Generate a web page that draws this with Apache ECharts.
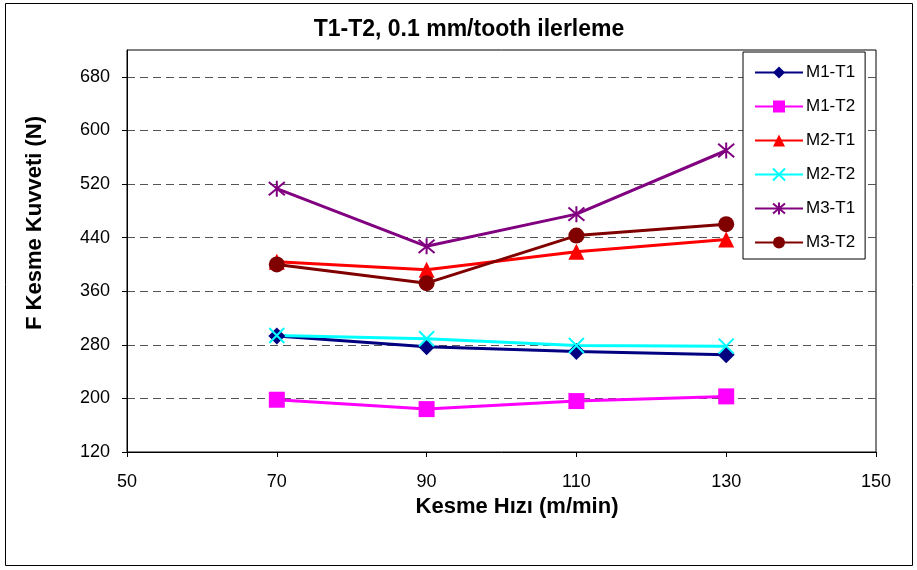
<!DOCTYPE html>
<html>
<head>
<meta charset="utf-8">
<script src="https://cdn.jsdelivr.net/npm/echarts@6/dist/echarts.min.js"></script>
<style>
  html, body { margin: 0; padding: 0; background: #fff; }
  #chart { width: 917px; height: 570px; }
</style>
</head>
<body>
<div id="chart"></div>
<script>
// Cutting speed (m/min) on the x axis
var speeds = [70, 90, 110, 130];
var xTicks = [50, 70, 90, 110, 130, 150];
var yTicks = [120, 200, 280, 360, 440, 520, 600, 680];

// Cutting force (N) per material/tool pair
var m1t1 = [293, 277, 270, 265];
var m1t2 = [198, 184, 196, 203];
var m2t1 = [404, 392, 419, 437];
var m2t2 = [294, 289, 279, 278];
var m3t1 = [513, 427, 475, 570];
var m3t2 = [400, 372, 443, 460];

function pairs(vals) {
  return speeds.map(function (s, i) { return [s, vals[i]]; });
}

var FONT = 'Liberation Sans, Arial, sans-serif';
var CROSS = 'path://M0,0L10,10M10,0L0,10';
var STAR = 'path://M0,0L10,10M10,0L0,10M5,-1L5,11';

function series(name, vals, color, symbol, size, hollow) {
  return {
    name: name,
    type: 'line',
    data: pairs(vals),
    symbol: symbol,
    symbolSize: size,
    showAllSymbol: true,
    lineStyle: { color: color, width: 3 },
    itemStyle: hollow
      ? { color: 'rgba(0,0,0,0)', borderColor: color, borderWidth: 2 }
      : { color: color, borderWidth: 0 },
    emphasis: { disabled: true },
    z: 3
  };
}

var chart = echarts.init(document.getElementById('chart'), null, { renderer: 'canvas' });
chart.setOption({
  animation: false,
  backgroundColor: '#fff',
  title: {
    text: 'T1-T2, 0.1 mm/tooth ilerleme',
    left: 464,
    top: 13,
    textAlign: 'center',
    textStyle: { fontFamily: FONT, fontSize: 23, fontWeight: 'bold', color: '#000' }
  },
  graphic: [{
    type: 'rect',
    shape: { x: 5.5, y: 3.5, width: 907, height: 562 },
    style: { fill: 'none', stroke: '#000', lineWidth: 1 },
    silent: true
  }],
  grid: {
    left: 127, right: 41, top: 50, bottom: 118,
    show: true, borderColor: '#000', borderWidth: 1, backgroundColor: '#fff'
  },
  legend: {
    orient: 'vertical',
    left: 743,
    top: 52,
    width: 127,
    padding: [12, 10, 8, 11],
    itemWidth: 48,
    itemHeight: 15,
    itemGap: 17,
    backgroundColor: '#fff',
    borderColor: '#000',
    borderWidth: 1,
    textStyle: { fontFamily: FONT, fontSize: 17, color: '#000', padding: [0, 0, 0, -2] },
    data: ['M1-T1', 'M1-T2', 'M2-T1', 'M2-T2', 'M3-T1', 'M3-T2']
  },
  xAxis: {
    type: 'value',
    min: 50,
    max: 150,
    name: 'Kesme Hızı (m/min)',
    nameLocation: 'middle',
    nameGap: 44,
    nameTextStyle: { fontFamily: FONT, fontSize: 22, fontWeight: 'bold', color: '#000', padding: [0, 0, 0, 31] },
    axisLine: { onZero: false, lineStyle: { color: '#000', width: 1 } },
    axisTick: { show: true, inside: false, length: 5, lineStyle: { color: '#000' }, customValues: xTicks },
    axisLabel: { customValues: xTicks, fontFamily: FONT, fontSize: 18, color: '#000', margin: 21 },
    splitLine: { show: false }
  },
  yAxis: {
    type: 'value',
    min: 120,
    max: 720,
    name: 'F Kesme Kuvveti (N)',
    nameLocation: 'middle',
    nameGap: 81,
    nameTextStyle: { fontFamily: FONT, fontSize: 22, fontWeight: 'bold', color: '#000', padding: [0, 0, 0, 56] },
    axisLine: { onZero: false, lineStyle: { color: '#000', width: 1 } },
    axisTick: { show: true, inside: false, length: 5, lineStyle: { color: '#000' }, customValues: yTicks },
    axisLabel: { customValues: yTicks, fontFamily: FONT, fontSize: 18, color: '#000', margin: 17 },
    splitLine: { show: true, lineStyle: { color: '#555', width: 1, type: [8, 5] } }
  },
  series: [
    series('M1-T1', m1t1, '#000080', 'diamond', 17, false),
    series('M1-T2', m1t2, '#FF00FF', 'rect', 16, false),
    series('M2-T1', m2t1, '#FF0000', 'triangle', 16, false),
    series('M2-T2', m2t2, '#00FFFF', CROSS, 15, true),
    series('M3-T1', m3t1, '#800080', STAR, 16, true),
    series('M3-T2', m3t2, '#800000', 'circle', 16, false)
  ]
});
</script>
</body>
</html>
